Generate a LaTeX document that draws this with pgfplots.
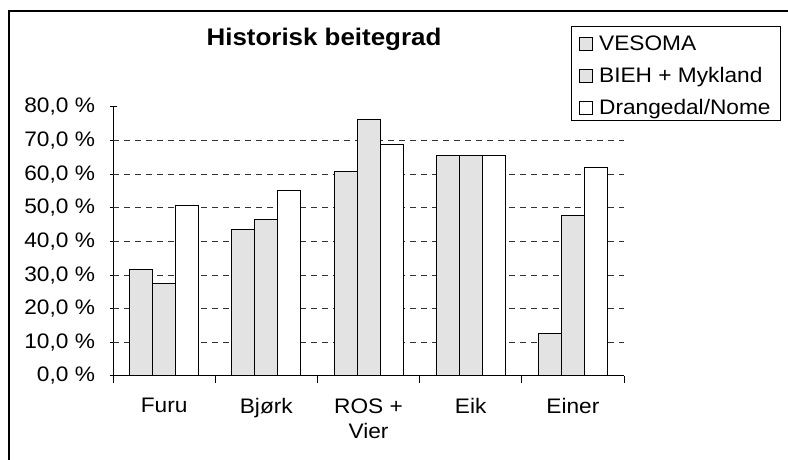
\documentclass[border=0pt]{standalone}
\usepackage{pgfplots}
\pgfplotsset{compat=1.18}
\usepackage{fontspec}
\setmainfont{Liberation Sans}[FakeStretch=1.08]
\definecolor{barg}{RGB}{227,227,227}
\begin{document}
\begin{tikzpicture}[x=1bp,y=1bp]
\useasboundingbox (0,0) rectangle (788,460);
\fill[white] (0,0) rectangle (788,460);
\draw[line width=1.2bp] (9,0) -- (9,449) -- (790,449);
\begin{axis}[
  at={(113bp,84bp)}, anchor=south west,
  scale only axis, width=511bp, height=269bp,
  xmin=-0.5, xmax=4.5, ymin=0, ymax=80,
  axis x line=bottom, axis y line=left,
  axis line style={-, line width=1bp, black},
  ybar=0pt, bar width=23bp,
  xtick={-0.5,0.5,1.5,2.5,3.5,4.5}, xticklabels={},
  xtick align=outside, ytick align=center,
  major tick length=7bp,
  tick style={line width=1bp, black},
  extra x ticks={0,1,2,3,4},
  extra x tick labels={Furu,Bjørk,{ROS +\\Vier},Eik,Einer},
  extra x tick style={major tick length=0pt},
  xticklabel style={align=center, font=\fontsize{21bp}{25bp}\selectfont, yshift=-19bp},
  ytick={0,10,...,80},
  yticklabels={{0,0 \%},{10,0 \%},{20,0 \%},{30,0 \%},{40,0 \%},{50,0 \%},{60,0 \%},{70,0 \%},{80,0 \%}},
  yticklabel style={font=\fontsize{21bp}{25bp}\selectfont, xshift=-11bp},
  extra y ticks={10,20,...,70}, extra y tick labels={},
  extra y tick style={grid=major, major tick length=0pt},
  major grid style={dash pattern=on 6bp off 5bp, black!80, line width=1bp},
  title={Historisk beitegrad},
  title style={at={(0.413,1.2045)}, anchor=base, font=\fontsize{24bp}{30bp}\selectfont\bfseries},
  legend style={at={(0.896,1.301)}, anchor=north west, draw=black, line width=1bp,
    font=\fontsize{21bp}{25bp}\selectfont, inner xsep=8bp, inner ysep=4.5bp,
    row sep=11bp, column sep=4bp,
    nodes={inner sep=2bp, text height=17bp, text depth=0bp}, cells={anchor=west}},
  legend image code/.code={\draw[#1, line width=0.8bp] (0bp,-8.5bp) rectangle (13bp,4.5bp);},
]
\addplot[draw=black, fill=barg, line width=1bp] coordinates {(0,31.8) (1,43.7) (2,60.9) (3,65.5) (4,12.7)};
\addplot[draw=black, fill=barg, line width=1bp] coordinates {(0,27.4) (1,46.5) (2,76.2) (3,65.5) (4,47.6)};
\addplot[draw=black, fill=white, line width=1bp] coordinates {(0,50.8) (1,55.2) (2,68.9) (3,65.7) (4,62.0)};
\legend{VESOMA, BIEH + Mykland, Drangedal/Nome}
\end{axis}
\end{tikzpicture}
\end{document}
